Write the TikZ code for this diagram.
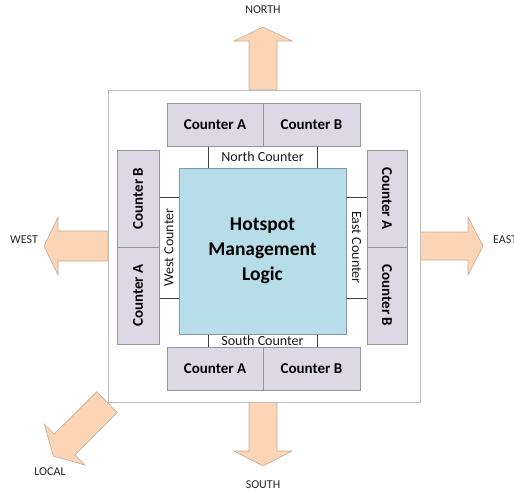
\documentclass[tikz,border=0pt]{standalone}
\usepackage{fontspec}
\setmainfont{Carlito}
\definecolor{peach}{HTML}{FBD5B5}
\definecolor{peachline}{HTML}{C4AC98}
\definecolor{lav}{HTML}{DDD8E5}
\definecolor{lavline}{HTML}{989499}
\definecolor{core}{HTML}{B7DDE8}
\definecolor{coreline}{HTML}{7F9AA3}
\definecolor{frame}{HTML}{BFBFBF}
\definecolor{tie}{HTML}{404040}
\begin{document}
\begin{tikzpicture}[x=1pt,y=-1pt,
  outarrow/.style={fill=peach, draw=peachline, line width=0.6pt, line join=miter},
  dirlabel/.style={font=\fontsize{12}{14}\selectfont, text=black!85, inner sep=0},
  ctr/.style={draw=lavline, fill=lav, line width=0.8pt, inner sep=0,
    font=\bfseries\fontsize{15}{18}\selectfont, text=black},
  link/.style={draw=tie, fill=white, line width=0.7pt, inner sep=0,
    font=\fontsize{14}{16}\selectfont, text=black!90}]
\useasboundingbox (0,0) rectangle (514,493);

% output ports
\filldraw[outarrow] (249,90) -- (249,41) -- (234,41) -- (263,27) -- (292,41) -- (277,41) -- (277,90) -- cycle;
\filldraw[outarrow] (108,231) -- (58,231) -- (58,217) -- (44,246) -- (58,275) -- (58,261) -- (108,261) -- cycle;
\filldraw[outarrow] (419,232) -- (468,232) -- (468,217) -- (483,246) -- (468,275) -- (468,260) -- (419,260) -- cycle;
\filldraw[outarrow] (249,402) -- (249,451) -- (234,451) -- (263,466) -- (292,451) -- (277,451) -- (277,402) -- cycle;
\filldraw[outarrow] (96.7,391.7) -- (54.3,434) -- (44.3,424) -- (53.3,456) -- (85,465) -- (75.2,454.8) -- (117.3,412.7) -- cycle;

\node[dirlabel] (north) at (263,10) {NORTH};
\node[dirlabel] (west) at (24,240) {WEST};
\node[dirlabel, anchor=west] (east) at (493,240) {EAST};
\node[dirlabel] (south) at (263,485) {SOUTH};
\node[dirlabel] (local) at (50,472) {LOCAL};

% router frame
\node[draw=frame, fill=white, line width=0.8pt, minimum width=312, minimum height=312, inner sep=0] (router) at (264,246) {};

% counter links
\node[link, minimum width=109, minimum height=22] (nlink) at (262.5,157) {North Counter};
\node[link, minimum width=109, minimum height=13] (slink) at (262.5,340.5) {South Counter};
\node[link, rotate=90, minimum width=101, minimum height=20] (wlink) at (169,247.5) {West Counter};
\node[link, rotate=-90, minimum width=101, minimum height=21] (elink) at (356.5,247.5) {East Counter};

% counters
\node[ctr, minimum width=96, minimum height=43] (nA) at (215,124.5) {Counter A};
\node[ctr, minimum width=97, minimum height=43] (nB) at (311.5,124.5) {Counter B};
\node[ctr, minimum width=96, minimum height=43] (sA) at (215,368.5) {Counter A};
\node[ctr, minimum width=97, minimum height=43] (sB) at (311.5,368.5) {Counter B};
\node[ctr, rotate=90, minimum width=97, minimum height=42] (wB) at (138,198.5) {Counter B};
\node[ctr, rotate=90, minimum width=97, minimum height=42] (wA) at (138,295.5) {Counter A};
\node[ctr, rotate=-90, minimum width=97, minimum height=40] (eA) at (387,198.5) {Counter A};
\node[ctr, rotate=-90, minimum width=97, minimum height=40] (eB) at (387,295.5) {Counter B};

% hotspot logic
\node[draw=coreline, fill=core, line width=0.8pt, minimum width=167, minimum height=166, inner sep=0,
  align=center, font=\bfseries\fontsize{19.5}{25}\selectfont, text=black] (core) at (262.5,251)
  {Hotspot\\Management\\Logic};
\end{tikzpicture}
\end{document}
